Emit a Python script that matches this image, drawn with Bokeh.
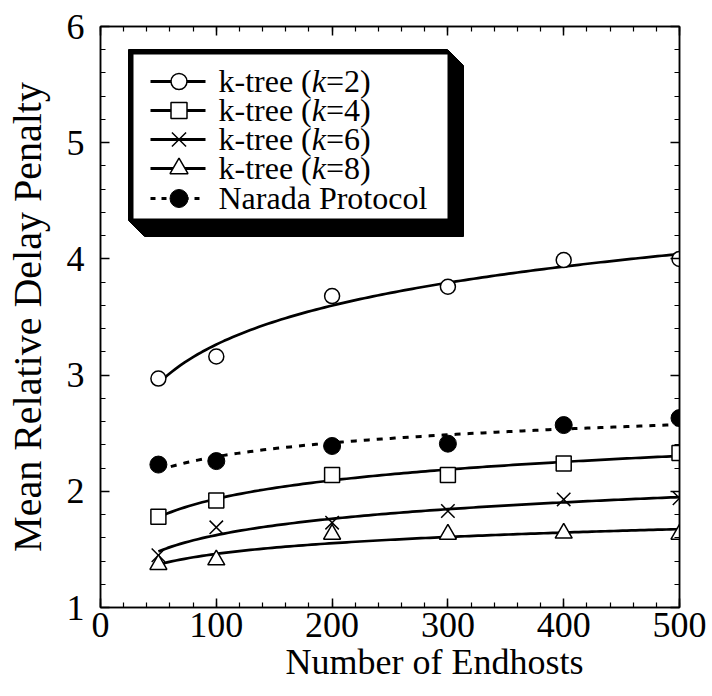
import numpy as np
from bokeh.plotting import figure
from bokeh.models import Range1d, SingleIntervalTicker, LinearAxis, Title
from bokeh.core.properties import value
from bokeh.embed import file_html
from bokeh.resources import INLINE

# ---- data -------------------------------------------------------------
endhosts = [50, 100, 200, 300, 400, 500]
ktree_k2 = [2.97, 3.16, 3.68, 3.76, 3.99, 4.00]
ktree_k4 = [1.78, 1.92, 2.14, 2.14, 2.24, 2.33]
ktree_k6 = [1.45, 1.69, 1.73, 1.83, 1.93, 1.94]
ktree_k8 = [1.37, 1.41, 1.63, 1.63, 1.64, 1.63]
narada = [2.23, 2.26, 2.39, 2.41, 2.57, 2.63]

k_values = [2, 4, 6, 8]
narada_name = "Narada Protocol"
x_title = "Number of Endhosts"
y_title = "Mean Relative Delay Penalty"

X_MIN, X_MAX = 0, 500
Y_MIN, Y_MAX = 1, 6

# ---- layout -----------------------------------------------------------
W, H = 712, 696
BORDER_L, BORDER_R, BORDER_T, BORDER_B = 100, 33, 26, 89
FRAME_W = W - BORDER_L - BORDER_R
FRAME_H = H - BORDER_T - BORDER_B
SERIF = "Liberation Serif"


def dx(px):
    """canvas pixel column -> data x"""
    return X_MIN + (px - BORDER_L) / FRAME_W * (X_MAX - X_MIN)


def dy(py):
    """canvas pixel row -> data y"""
    return Y_MAX - (py - BORDER_T) / FRAME_H * (Y_MAX - Y_MIN)


p = figure(width=W, height=H, output_backend="svg", toolbar_location=None,
           x_range=Range1d(X_MIN, X_MAX), y_range=Range1d(Y_MIN, Y_MAX),
           x_axis_type=None, y_axis_type=None,
           min_border_left=BORDER_L, min_border_right=BORDER_R,
           min_border_top=BORDER_T, min_border_bottom=BORDER_B)
p.background_fill_color = "white"
p.border_fill_color = "white"
p.outline_line_color = "black"
p.outline_line_width = 1.5


def style_axis(ax, ticker, show_labels):
    ax.ticker = ticker
    ax.axis_line_color = "black"
    ax.axis_line_width = 1.5
    ax.major_tick_in = 9
    ax.major_tick_out = 0
    ax.minor_tick_in = 5
    ax.minor_tick_out = 0
    ax.major_tick_line_width = 1.5
    ax.minor_tick_line_width = 1.2
    ax.major_tick_line_color = "black"
    ax.minor_tick_line_color = "black"
    if show_labels:
        ax.major_label_text_font = SERIF
        ax.major_label_text_font_size = "36px"
        ax.major_label_text_color = "black"
    else:
        ax.major_label_text_font_size = "1px"
        ax.major_label_text_color = None
        ax.major_label_standoff = 0


x_ticker = lambda: SingleIntervalTicker(interval=100, num_minor_ticks=5)
y_ticker = lambda: SingleIntervalTicker(interval=1, num_minor_ticks=5)

xb = LinearAxis()
style_axis(xb, x_ticker(), True)
xb.major_label_standoff = 5
p.add_layout(xb, "below")

yl = LinearAxis(axis_label=y_title)
style_axis(yl, y_ticker(), True)
yl.major_label_standoff = 16
yl.axis_label_text_font = SERIF
yl.axis_label_text_font_size = "40px"
yl.axis_label_text_font_style = "normal"
yl.axis_label_text_color = "black"
yl.axis_label_standoff = 14
p.add_layout(yl, "left")

xt = LinearAxis()
style_axis(xt, x_ticker(), False)
p.add_layout(xt, "above")

yr = LinearAxis()
style_axis(yr, y_ticker(), False)
p.add_layout(yr, "right")

p.xgrid.visible = False
p.ygrid.visible = False

# x-axis title, set a little right of the frame middle
p.add_layout(Title(text=x_title, align="left", offset=185,
                   vertical_align="top", standoff=4,
                   text_font=SERIF, text_font_size="36px",
                   text_font_style="normal", text_color="black"), "below")

# ---- logarithmic trend curves + measured points -----------------------
xs = np.array(endhosts, dtype=float)
xfit = np.linspace(xs.min(), xs.max(), 120)


def log_fit(ys):
    b, a = np.polyfit(np.log(xs), np.array(ys, dtype=float), 1)
    return a + b * np.log(xfit)


LINE_W = 2.7
solid_series = [
    (ktree_k2, "circle", 15),
    (ktree_k4, "square", 15),
    (ktree_k6, "x", 19),
    (ktree_k8, "triangle", 17),
]
for ys, marker, size in solid_series:
    p.line(xfit, log_fit(ys), line_color="black", line_width=LINE_W)
    p.scatter(endhosts, ys, marker=marker, size=size, fill_color="white",
              line_color="black", line_width=1.5)

p.line(xfit, log_fit(narada), line_color="black", line_width=3,
       line_dash="6 7")
p.scatter(endhosts, narada, marker="circle", size=17, fill_color="black",
          line_color="black")

# ---- legend box with a 3-D drop shadow --------------------------------
BOX_L, BOX_T, BOX_R, BOX_B, DEPTH, EDGE = 128, 49, 447, 220, 16, 5
shadow_px = [(BOX_L, BOX_T), (BOX_R, BOX_T), (BOX_R + DEPTH, BOX_T + DEPTH),
             (BOX_R + DEPTH, BOX_B + DEPTH), (BOX_L + DEPTH, BOX_B + DEPTH),
             (BOX_L, BOX_B)]
p.patch([dx(a) for a, _ in shadow_px], [dy(b) for _, b in shadow_px],
        fill_color="black", line_color="black")
p.quad(left=dx(BOX_L + EDGE), right=dx(BOX_R), top=dy(BOX_T + EDGE),
       bottom=dy(BOX_B - 2), fill_color="white", line_color=None)

ROW0, ROW_STEP = 81, 29
SAMPLE_L, SAMPLE_R, TEXT_X = 150, 205, 218
TEXT_DROP = -1          # baseline offset from the sample line
FS = 32
text_kw = dict(text_font=value(SERIF), text_font_size=f"{FS}px",
               text_color="black", text_baseline="alphabetic",
               text_align="left")

legend_rows = [(m, s) for _, m, s in solid_series]
for i, (k, (marker, size)) in enumerate(zip(k_values, legend_rows)):
    ry = ROW0 + i * ROW_STEP
    p.line([dx(SAMPLE_L), dx(SAMPLE_R)], [dy(ry), dy(ry)],
           line_color="black", line_width=LINE_W + 0.3)
    p.scatter([dx((SAMPLE_L + SAMPLE_R) / 2 + 1)], [dy(ry)], marker=marker,
              size=size + 1, fill_color="white", line_color="black",
              line_width=1.5)
    base = dy(ry + TEXT_DROP)
    w1 = 2.915 * FS      # advance of "k-tree ("
    w2 = 0.444 * FS      # advance of italic "k"
    p.text([dx(TEXT_X)], [base], text=["k-tree ("], **text_kw)
    p.text([dx(TEXT_X + w1)], [base], text=["k"], text_font_style="italic",
           **text_kw)
    p.text([dx(TEXT_X + w1 + w2)], [base], text=[f"={k})"], **text_kw)

ry = ROW0 + 4 * ROW_STEP + 1
p.line([dx(SAMPLE_L), dx(SAMPLE_R)], [dy(ry), dy(ry)], line_color="black",
       line_width=3, line_dash="5 6")
p.scatter([dx((SAMPLE_L + SAMPLE_R) / 2 + 1)], [dy(ry)], marker="circle",
          size=18, fill_color="black", line_color="black")
p.text([dx(TEXT_X)], [dy(ry + TEXT_DROP)], text=[narada_name], **text_kw)

open("out.html", "w").write(file_html(p, INLINE))
